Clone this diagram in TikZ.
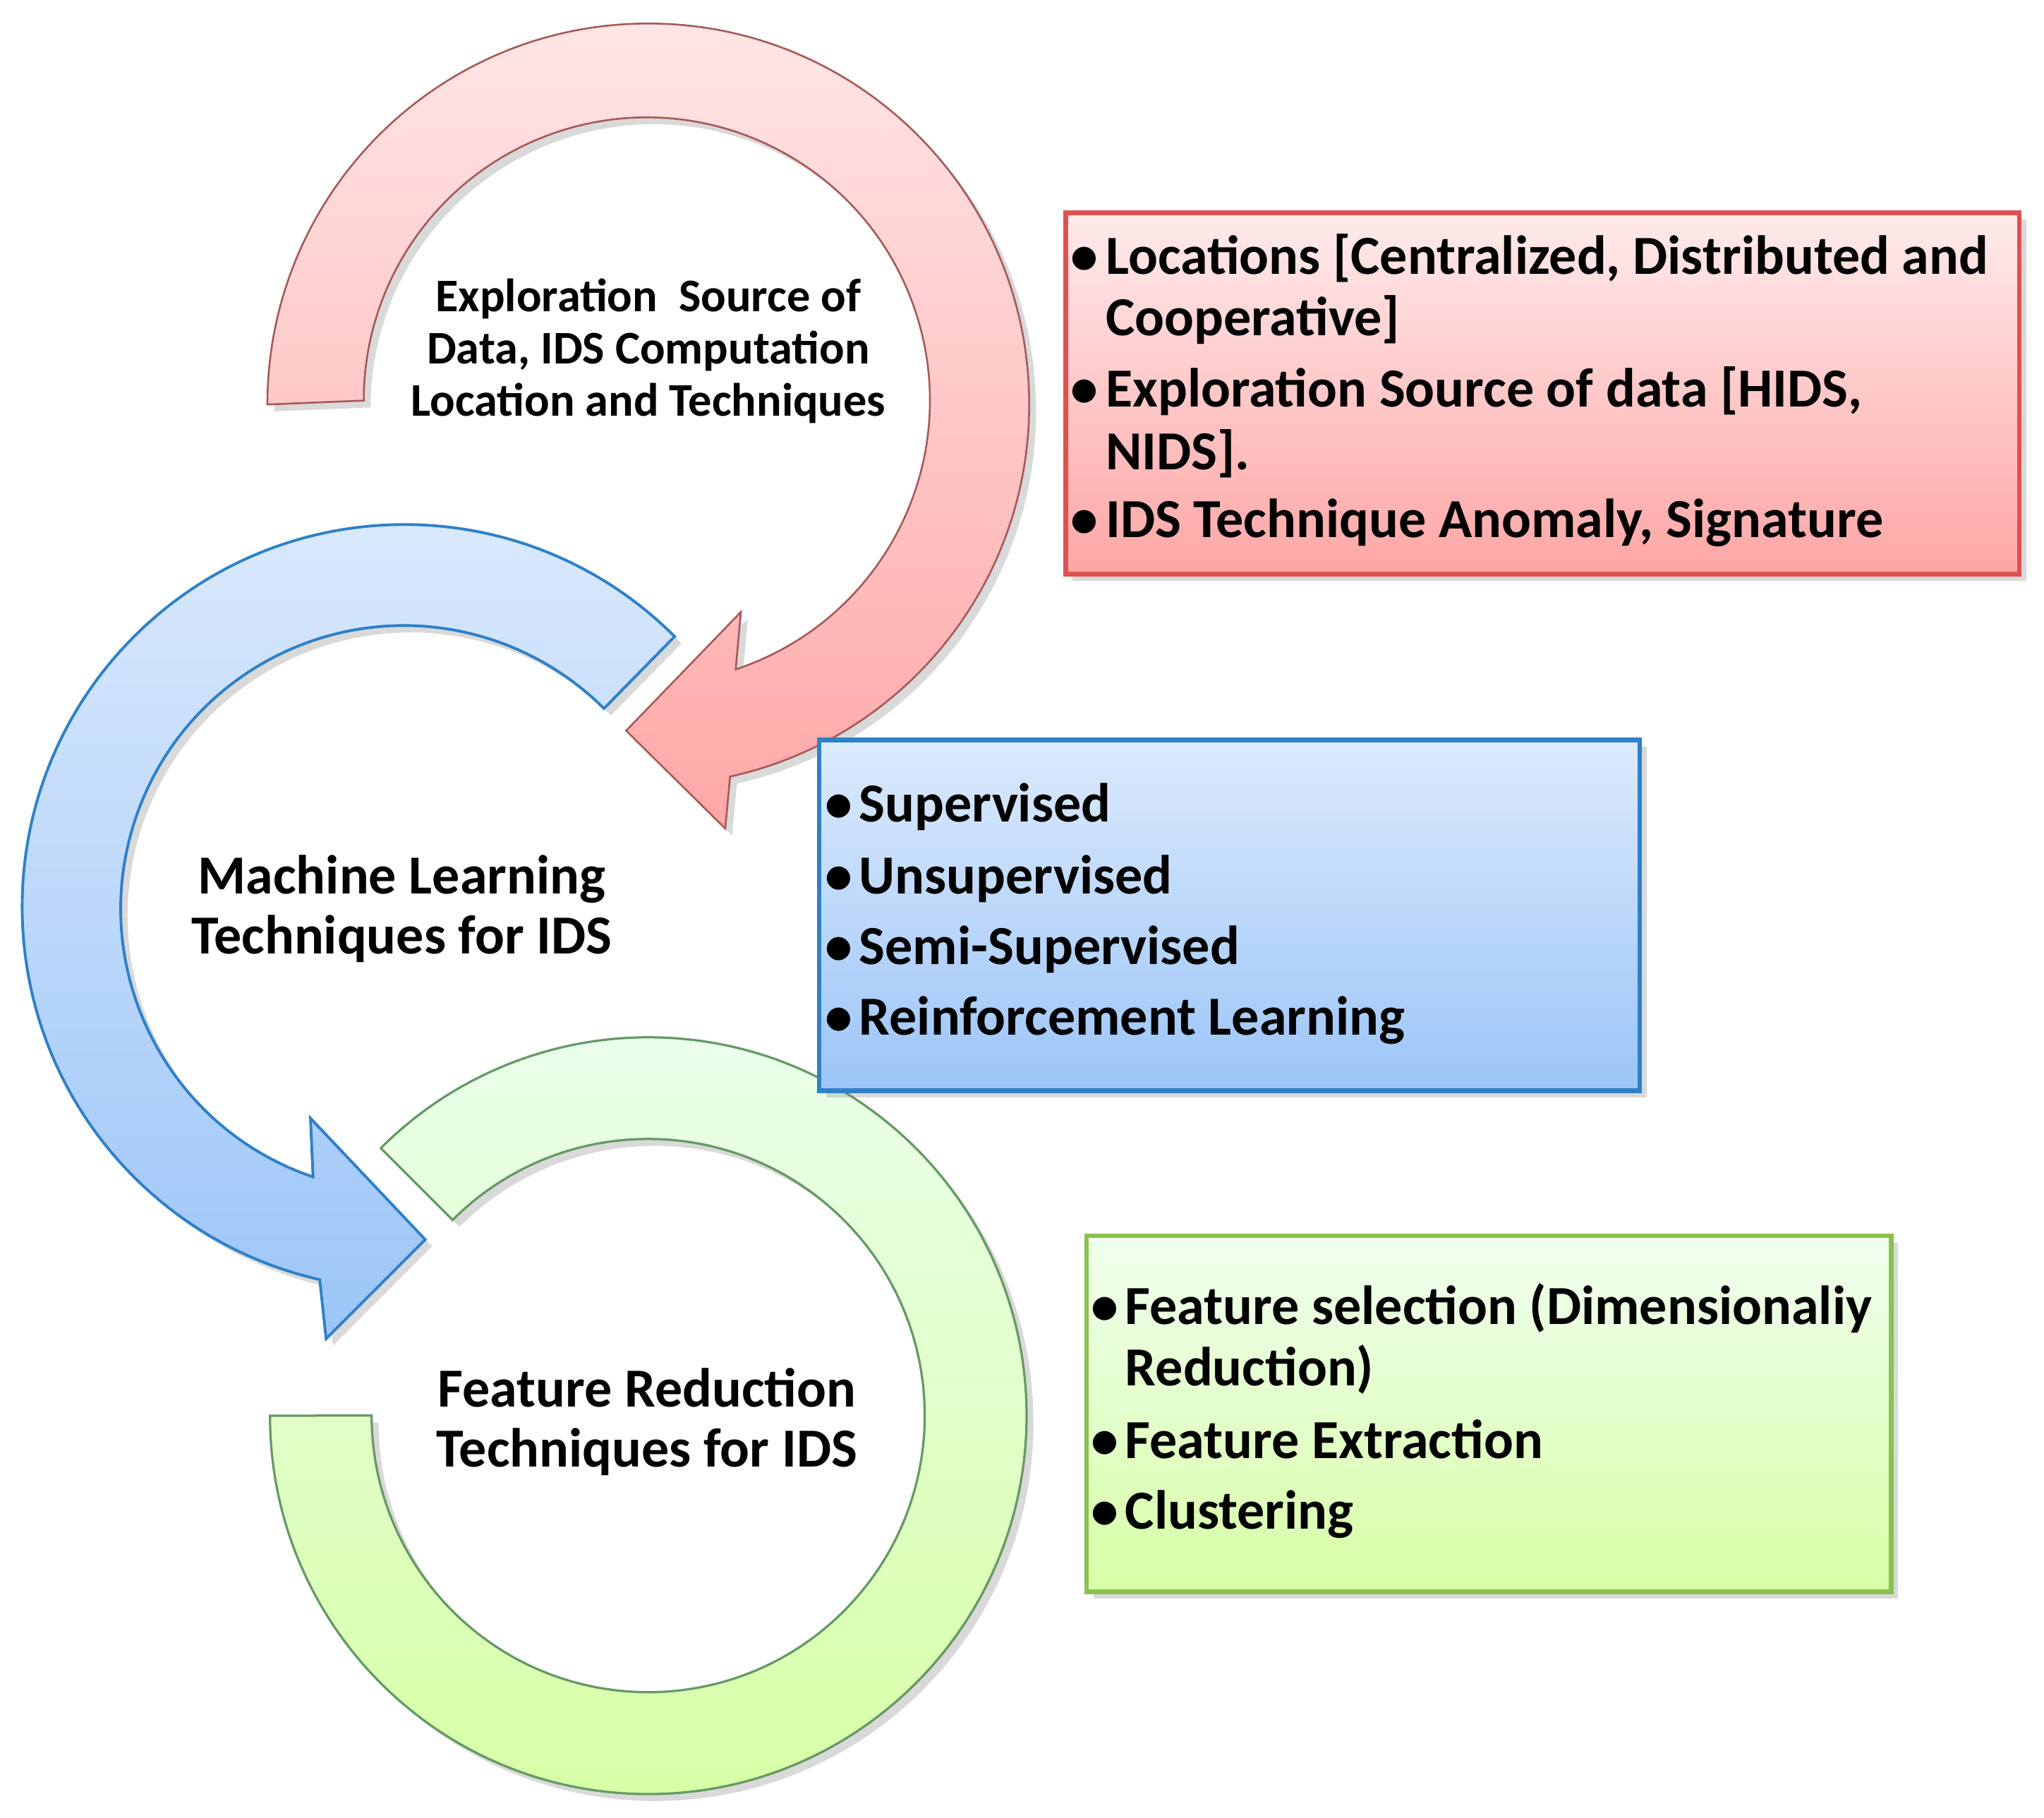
\documentclass[tikz,border=0pt]{standalone}
\usepackage{fontspec}
\setmainfont{Carlito}
\usetikzlibrary{shadows,calc}
\definecolor{redB}{HTML}{E05050}
\definecolor{blueB}{HTML}{2E80C8}
\definecolor{greenB}{HTML}{8CC050}
\definecolor{blueT}{HTML}{DCEAFD}
\definecolor{blueBt}{HTML}{9CC5F8}
\begin{document}
\begin{tikzpicture}[x=0.01cm,y=-0.01cm,
  shd/.style={drop shadow={shadow xshift=1.5pt,shadow yshift=-1.5pt,opacity=0.3}},
  redarrow/.style={shd,top color=red!10,bottom color=red!35!white!95!pink,draw=red!30!gray,line width=0.4pt},
  bluearrow/.style={shd,top color=blueT,bottom color=blueBt,draw=blueB,line width=0.6pt},
  greenring/.style={shd,top color=green!8,bottom color=green!45!yellow!35,draw=gray!80!green,line width=0.5pt},
  box/.style={shd,line width=1pt},
  bt/.style={anchor=base west,inner sep=0pt,font=\fontsize{12}{14}\selectfont\bfseries},
  ct/.style={anchor=base,inner sep=0pt,font=\fontsize{12}{14}\selectfont\bfseries},
  st/.style={anchor=base,inner sep=0pt,font=\fontsize{10.2}{12}\selectfont\bfseries}]
\useasboundingbox (0,0) rectangle (1567,1393);
% red circular arrow
\path[redarrow] (205,310) arc[start angle=180,end angle=437.6,radius=292]
  -- (556,635) -- (480,560) -- (568,469) -- (564,513)
  arc[start angle=431.7,end angle=180,radius=217] -- cycle;
% blue circular arrow
\path[bluearrow] ($(310,695)+(-45:293)$) arc[start angle=-45,end angle=-257.2,radius=293]
  -- (250,1026) -- (326,950) -- (238,857) -- (240,902)
  arc[start angle=-251.3,end angle=-45,radius=217] -- cycle;
% green ring
\path[greenring] (207,1085) arc[start angle=180,end angle=-135,radius=290]
  -- (347,935) arc[start angle=-135,end angle=180,radius=212] -- cycle;
% circle texts
\node[st] (t1) at (497,239) {Exploration\ \ Source of};
\node[st] (t2) at (497,279) {Data, IDS Computation};
\node[st] (t3) at (497,319) {Location and Techniques};
\node[ct] (m1) at (308,685) {Machine Learning};
\node[ct] (m2) at (308,731) {Techniques for IDS};
\node[ct] (f1) at (496,1078) {Feature Reduction};
\node[ct] (f2) at (496,1124) {Techniques for IDS};
% boxes
\path[box,draw=redB,top color=red!8,bottom color=red!35!white] (817,163) rectangle (1548,440);
\path[box,draw=blueB,top color=blueT,bottom color=blueBt] (628,567) rectangle (1257,836);
\path[box,draw=greenB,top color=green!6,bottom color=green!45!yellow!35] (833,947) rectangle (1450,1220);
% red box text
\node[bt] (rb1) at (820,210) {\textbullet};
\node[bt] (r1) at (847,210) {Locations [Centralized, Distributed and};
\node[bt] (r2) at (847,257) {Cooperative]};
\node[bt] (rb2) at (820,312) {\textbullet};
\node[bt] (r3) at (847,312) {Exploration Source of data [HIDS,};
\node[bt] (r4) at (847,360) {NIDS].};
\node[bt] (rb3) at (820,412) {\textbullet};
\node[bt] (r5) at (847,412) {IDS Technique Anomaly, Signature};
% blue box text
\node[bt] (bb1) at (632,630) {\textbullet};
\node[bt] (b1) at (658,630) {Supervised};
\node[bt] (bb2) at (632,685) {\textbullet};
\node[bt] (b2) at (658,685) {Unsupervised};
\node[bt] (bb3) at (632,739) {\textbullet};
\node[bt] (b3) at (658,739) {Semi-Supervised};
\node[bt] (bb4) at (632,793) {\textbullet};
\node[bt] (b4) at (658,793) {Reinforcement Learning};
% green box text
\node[bt] (gb1) at (836,1015) {\textbullet};
\node[bt] (g1) at (862,1015) {Feature selection (Dimensionaliy};
\node[bt] (g2) at (862,1062) {Reduction)};
\node[bt] (gb2) at (836,1118) {\textbullet};
\node[bt] (g3) at (862,1118) {Feature Extraction};
\node[bt] (gb3) at (836,1172) {\textbullet};
\node[bt] (g4) at (862,1172) {Clustering};
\end{tikzpicture}
\end{document}
